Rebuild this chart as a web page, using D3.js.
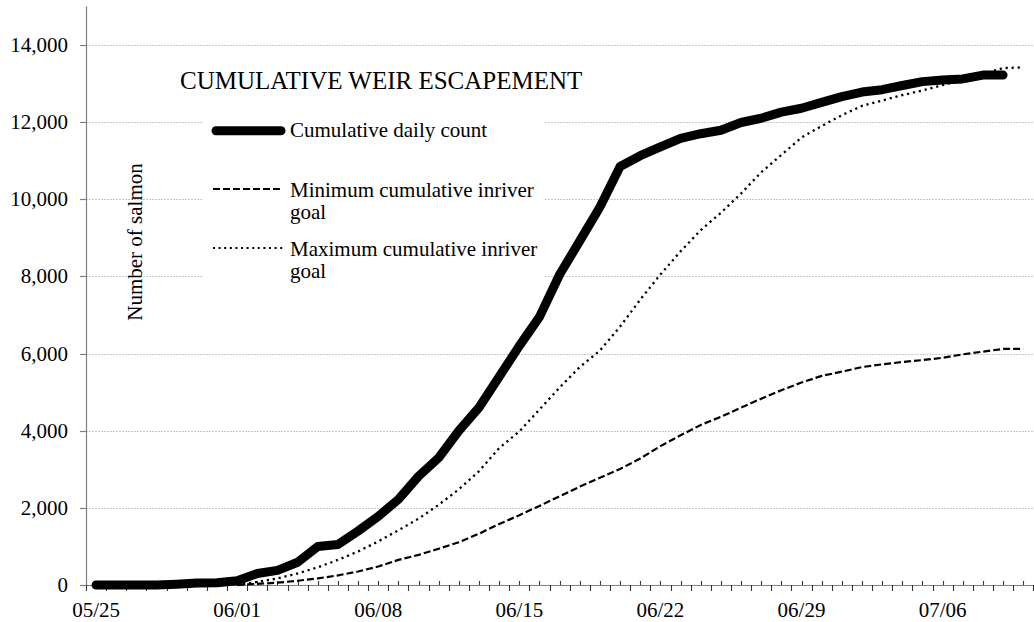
<!DOCTYPE html>
<html>
<head>
<meta charset="utf-8">
<script src="https://cdn.jsdelivr.net/npm/d3@7"></script>
<style>
  html, body { margin: 0; padding: 0; background: #fff; }
  svg { display: block; }
  text { font-family: "Liberation Serif", "Times New Roman", serif; fill: #000; }
</style>
</head>
<body>
<svg id="chart" width="1034" height="622"></svg>
<script>
// ---- data ----
const dates = ["05/25","05/26","05/27","05/28","05/29","05/30","05/31",
  "06/01","06/02","06/03","06/04","06/05","06/06","06/07","06/08","06/09","06/10",
  "06/11","06/12","06/13","06/14","06/15","06/16","06/17","06/18","06/19","06/20",
  "06/21","06/22","06/23","06/24","06/25","06/26","06/27","06/28","06/29","06/30",
  "07/01","07/02","07/03","07/04","07/05","07/06","07/07","07/08","07/09","07/10"];
const tickLabels = ["05/25","06/01","06/08","06/15","06/22","06/29","07/06"];
const yTicks = [0, 2000, 4000, 6000, 8000, 10000, 12000, 14000];

const cumulativeCount = [0,0,0,0,20,50,60,
  110,300,380,590,1000,1050,1400,1780,2220,2820,
  3300,4000,4600,5400,6200,6950,8050,8920,9800,10850,
  11130,11360,11580,11700,11790,11990,12100,12260,12360,12510,
  12660,12780,12840,12950,13050,13090,13120,13220,13220,null];
const minimumGoal = [null,null,null,null,null,null,null,
  0,30,60,110,170,250,350,480,650,780,
  940,1110,1330,1580,1810,2050,2300,2550,2780,3010,
  3280,3600,3880,4150,4360,4600,4830,5050,5250,5420,
  5530,5650,5720,5780,5830,5890,5980,6050,6120,6120];
const maximumGoal = [null,null,null,null,null,null,null,
  0,80,170,300,460,650,870,1130,1420,1720,
  2080,2480,2950,3550,3980,4550,5120,5650,6080,6700,
  7400,8050,8650,9200,9650,10150,10700,11150,11600,11900,
  12180,12420,12560,12700,12820,12960,13100,13250,13400,13420];

// ---- layout ----
const svg = d3.select("#chart");
const plotLeft = 86, plotRight = 1033.3, plotBottom = 585, plotTop = 6.4;
const x = d3.scaleBand().domain(dates).range([plotLeft, plotRight]).padding(0);
const y = d3.scaleLinear().domain([0, 15000]).range([plotBottom, plotTop]);
const cx = d => x(d) + x.bandwidth() / 2;

const legendBox = {x0: 203, x1: 545, y0: 100, y1: 300};

// gridlines
svg.append("g").selectAll("line").data(yTicks.filter(v => v > 0)).join("line")
  .attr("x1", plotLeft).attr("x2", 1034)
  .attr("y1", d => Math.round(y(d)) + 0.5).attr("y2", d => Math.round(y(d)) + 0.5)
  .attr("stroke", "#c8c8c8").attr("stroke-width", 1).attr("stroke-dasharray", "2,1");

svg.append("rect").attr("x", legendBox.x0).attr("y", legendBox.y0)
  .attr("width", legendBox.x1 - legendBox.x0).attr("height", legendBox.y1 - legendBox.y0)
  .attr("fill", "#fff");

// axes
const axisColor = "#7f7f7f";
svg.append("line").attr("x1", plotLeft + 0.5).attr("x2", plotLeft + 0.5).attr("y1", plotTop).attr("y2", plotBottom)
  .attr("stroke", axisColor).attr("stroke-width", 1.2);
svg.append("line").attr("x1", plotLeft - 6).attr("x2", 1034).attr("y1", plotBottom + 0.5).attr("y2", plotBottom + 0.5)
  .attr("stroke", axisColor).attr("stroke-width", 1.2);

// y ticks & labels
const yg = svg.append("g");
yg.selectAll("line").data(yTicks).join("line")
  .attr("x1", plotLeft - 6).attr("x2", plotLeft)
  .attr("y1", d => Math.round(y(d)) + 0.5).attr("y2", d => Math.round(y(d)) + 0.5)
  .attr("stroke", axisColor).attr("stroke-width", 1.2);
yg.selectAll("text").data(yTicks).join("text")
  .attr("x", 68).attr("y", d => y(d) + 7)
  .attr("text-anchor", "end").attr("font-size", 21)
  .text(d => d3.format(",")(d));

// x ticks: major outside at band edges, minor inside at band centers
const xg = svg.append("g");
const edges = dates.map(d => x(d)).concat([plotRight]);
xg.selectAll("line.major").data(edges).join("line").attr("class", "major")
  .attr("x1", d => Math.round(d) + 0.5).attr("x2", d => Math.round(d) + 0.5)
  .attr("y1", plotBottom).attr("y2", plotBottom + 6)
  .attr("stroke", "#333").attr("stroke-width", 1.1);
xg.selectAll("line.minor").data(dates).join("line").attr("class", "minor")
  .attr("x1", d => Math.round(cx(d)) + 0.5).attr("x2", d => Math.round(cx(d)) + 0.5)
  .attr("y1", plotBottom - 4).attr("y2", plotBottom)
  .attr("stroke", "#333").attr("stroke-width", 1.1);
xg.selectAll("text").data(tickLabels).join("text")
  .attr("x", d => cx(d)).attr("y", 616.5)
  .attr("text-anchor", "middle").attr("font-size", 21)
  .text(d => d);

// y axis title
svg.append("text")
  .attr("transform", "translate(142,242) rotate(-90)")
  .attr("text-anchor", "middle").attr("font-size", 21)
  .text("Number of salmon");

// lines
const mkLine = arr => d3.line()
  .defined((d, i) => arr[i] !== null)
  .x((d, i) => cx(dates[i]))
  .y((d, i) => y(arr[i]));

svg.append("path").datum(cumulativeCount)
  .attr("d", mkLine(cumulativeCount))
  .attr("fill", "none").attr("stroke", "#000").attr("stroke-width", 9)
  .attr("stroke-linejoin", "round").attr("stroke-linecap", "round");
svg.append("path").datum(minimumGoal)
  .attr("d", mkLine(minimumGoal))
  .attr("fill", "none").attr("stroke", "#000").attr("stroke-width", 2.2)
  .attr("stroke-dasharray", "7,3");
svg.append("path").datum(maximumGoal)
  .attr("d", mkLine(maximumGoal))
  .attr("fill", "none").attr("stroke", "#000").attr("stroke-width", 2.3)
  .attr("stroke-dasharray", "2.2,3.8");

// title
svg.append("text").attr("x", 180).attr("y", 89).attr("font-size", 25)
  .text("CUMULATIVE WEIR ESCAPEMENT");

// legend
const legend = [
  {label: ["Cumulative daily count"], ly: 130.7, ty: 137, w: 9, dash: null, cap: "round"},
  {label: ["Minimum cumulative inriver", "goal"], ly: 189, ty: 197, w: 2.2, dash: "7,3", cap: "butt"},
  {label: ["Maximum cumulative inriver", "goal"], ly: 248, ty: 256, w: 2.2, dash: "2,3.6", cap: "butt"}
];
const lg = svg.append("g");
legend.forEach(it => {
  lg.append("line")
    .attr("x1", it.cap === "round" ? 216 : 213).attr("x2", it.cap === "round" ? 281 : 283)
    .attr("y1", it.ly).attr("y2", it.ly)
    .attr("stroke", "#000").attr("stroke-width", it.w)
    .attr("stroke-linecap", it.cap)
    .attr("stroke-dasharray", it.dash);
  const t = lg.append("text").attr("x", 290).attr("y", it.ty).attr("font-size", 21);
  it.label.forEach((s, k) => {
    t.append("tspan").attr("x", 290).attr("dy", k === 0 ? 0 : 22).text(s);
  });
});
</script>
</body>
</html>
